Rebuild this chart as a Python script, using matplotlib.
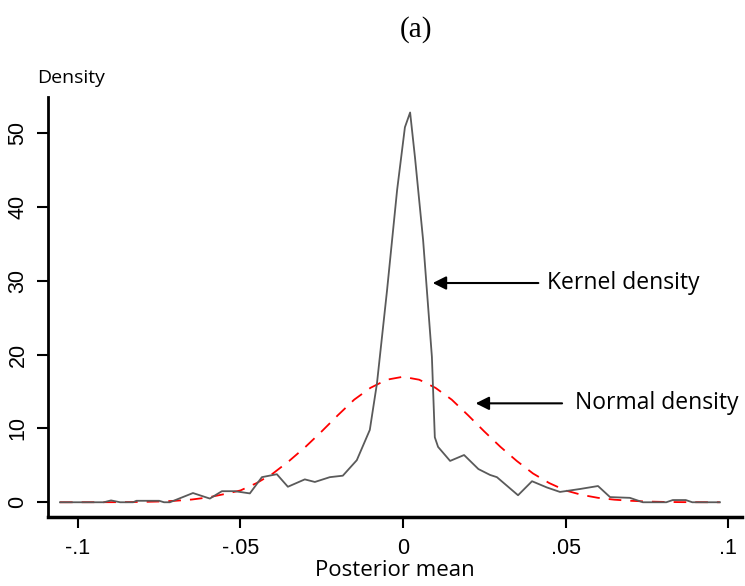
import matplotlib
matplotlib.use('Agg')
import matplotlib.pyplot as plt

plt.rcParams['font.family'] = 'Open Sans'

# Kernel density of posterior means
kernel_x = [-0.1055, -0.092, -0.0898, -0.087, -0.083, -0.082, -0.075, -0.0735,
            -0.0717, -0.0646, -0.0594, -0.0557, -0.0517, -0.0471, -0.0434,
            -0.0388, -0.0354, -0.0302, -0.0271, -0.0225, -0.0185, -0.0142,
            -0.0102, -0.0080, -0.0049, -0.0018, 0.0006, 0.0022, 0.0037, 0.0062,
            0.0089, 0.0098, 0.0108, 0.0145, 0.0188, 0.0232, 0.0268, 0.0289,
            0.0354, 0.0397, 0.0443, 0.0483, 0.0545, 0.0600, 0.0637, 0.0698,
            0.0738, 0.081, 0.083, 0.087, 0.089, 0.0975]
kernel_y = [0.0, 0.0, 0.25, 0.0, 0.0, 0.2, 0.2, 0.0,
            0.0, 1.25, 0.5, 1.5, 1.5, 1.2, 3.4,
            3.8, 2.1, 3.1, 2.75, 3.4, 3.6, 5.7,
            9.8, 16.1, 28.7, 42.3, 50.8, 52.8, 46.7, 35.5,
            19.7, 8.8, 7.5, 5.6, 6.4, 4.5, 3.7, 3.4,
            0.95, 2.85, 2.0, 1.4, 1.8, 2.2, 0.7, 0.6,
            0.0, 0.0, 0.3, 0.3, 0.0, 0.0]

# Normal density with the same mean and spread
normal_x = [-0.1055, -0.09, -0.085, -0.08, -0.075, -0.07, -0.065, -0.06, -0.055,
            -0.05, -0.045, -0.04, -0.035, -0.03, -0.025, -0.02, -0.015, -0.01,
            -0.005, 0.0, 0.005, 0.01, 0.015, 0.02, 0.025, 0.03, 0.035, 0.04,
            0.045, 0.05, 0.055, 0.06, 0.065, 0.07, 0.075, 0.08, 0.085, 0.09,
            0.0975]
normal_y = [0.0, 0.01, 0.02, 0.05, 0.10, 0.20, 0.37, 0.65, 1.10,
            1.6, 2.6, 3.9, 5.6, 7.5, 9.6, 11.8, 13.9, 15.5,
            16.6, 17.0, 16.6, 15.5, 13.9, 11.8, 9.6, 7.5, 5.6, 3.9,
            2.6, 1.6, 1.0, 0.6, 0.35, 0.2, 0.10, 0.05, 0.02, 0.01,
            0.0]

xticks = [-0.1, -0.05, 0, 0.05, 0.1]
xtick_labels = ['-.1', '-.05', '0', '.05', '.1']
yticks = [0, 10, 20, 30, 40, 50]

fig = plt.figure(figsize=(7.45, 5.86), dpi=100)
ax = fig.add_axes([0.0644, 0.1177, 0.9316, 0.7168])

ax.plot(normal_x, normal_y, color='#ff0000', lw=1.3, dashes=(7, 5))
ax.plot(kernel_x, kernel_y, color='#5a5a5a', lw=1.3)

ax.set_xlim(-0.1092, 0.1043)
ax.set_ylim(-2.0, 54.9)
ax.set_xticks(xticks)
ax.set_xticklabels(xtick_labels, fontfamily='Liberation Sans', fontsize=15.5)
ax.set_yticks(yticks)
ax.set_yticklabels([str(t) for t in yticks], fontfamily='Liberation Sans',
                   fontsize=15.5, rotation=90, va='center')
ax.tick_params(direction='out', length=8, width=1.5)
ax.tick_params(axis='x', pad=7)
ax.tick_params(axis='y', pad=6)

for side in ['top', 'right']:
    ax.spines[side].set_visible(False)
ax.spines['left'].set_linewidth(2)
ax.spines['bottom'].set_linewidth(2.5)

ax.set_xlabel('Posterior mean', fontsize=16, labelpad=1)
ax.text(-0.1125, 56.3, 'Density', fontsize=14, ha='left', va='bottom')

arrow = dict(arrowstyle='-|>', color='black', lw=1.5, mutation_scale=20)
ax.annotate('', xy=(0.0083, 29.7), xytext=(0.0425, 29.7), arrowprops=arrow)
ax.text(0.0443, 29.7, 'Kernel density', fontsize=16.5, va='center', ha='left')
ax.annotate('', xy=(0.0215, 13.4), xytext=(0.0498, 13.4), arrowprops=arrow)
ax.text(0.0529, 13.4, 'Normal density', fontsize=16.5, va='center', ha='left')

fig.text(0.558, 0.95, '(a)', fontfamily='Liberation Serif', fontsize=21,
         ha='center', va='center')

fig.savefig('out.png', dpi=100)
